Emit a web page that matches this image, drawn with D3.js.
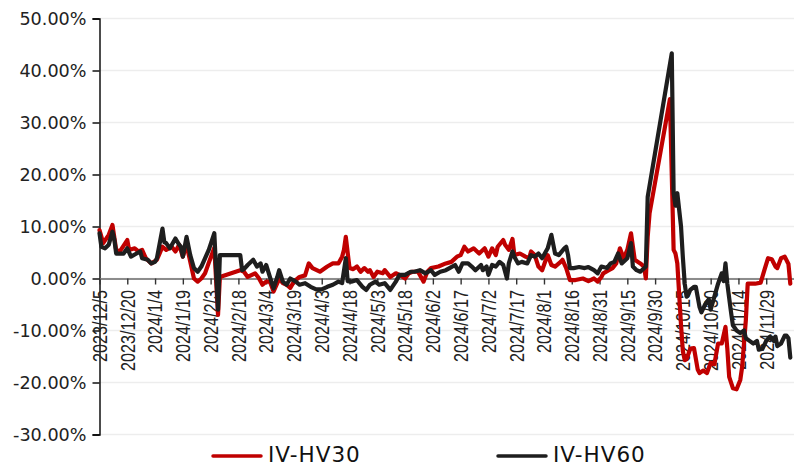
<!DOCTYPE html>
<html><head><meta charset="utf-8">
<script src="https://cdn.jsdelivr.net/npm/d3@7"></script>
<style>html,body{margin:0;padding:0;background:#fff;overflow:hidden}</style>
</head><body>
<svg id="c" width="794" height="467"></svg>
<script>
const ivHv30 = [
["2023-12-05",9.3],["2023-12-07",6.8],["2023-12-10",8.4],["2023-12-12",10.3],["2023-12-14",5.5],["2023-12-16",5.2],["2023-12-20",7.4],["2023-12-21",5.5],["2023-12-24",5.8],["2023-12-26",5.2],["2023-12-28",5.5],["2023-12-30",3.9],
["2024-01-02",2.9],["2024-01-05",3.6],["2024-01-08",6.1],["2024-01-10",5.5],["2024-01-13",6.1],["2024-01-15",5.2],["2024-01-17",6.5],["2024-01-19",4.2],["2024-01-21",6.5],["2024-01-25",0.0],["2024-01-27",-0.6],["2024-01-29",0.0],["2024-01-31",1.0],
["2024-02-02",3.0],["2024-02-05",5.9],["2024-02-07",-7.0],["2024-02-08",0.3],["2024-02-19",1.6],["2024-02-21",1.3],["2024-02-23",0.3],["2024-02-27",1.0],["2024-02-29",0.1],
["2024-03-02",-1.2],["2024-03-04",-0.6],["2024-03-06",-0.6],["2024-03-08",-2.5],["2024-03-10",-0.9],["2024-03-11",0.0],["2024-03-13",-0.9],["2024-03-15",-1.2],["2024-03-17",-1.8],["2024-03-19",-0.6],["2024-03-22",0.3],["2024-03-25",0.6],["2024-03-27",2.9],["2024-03-29",2.0],
["2024-04-02",1.3],["2024-04-06",2.3],["2024-04-09",2.9],["2024-04-12",2.9],["2024-04-14",4.2],["2024-04-15",5.5],["2024-04-16",8.0],["2024-04-18",2.0],["2024-04-20",1.8],["2024-04-22",2.3],["2024-04-24",1.3],["2024-04-26",2.0],["2024-04-28",1.3],["2024-04-29",1.6],
["2024-05-01",0.3],["2024-05-03",1.3],["2024-05-06",1.0],["2024-05-07",1.6],["2024-05-10",0.3],["2024-05-13",1.0],["2024-05-15",0.7],["2024-05-18",0.0],["2024-05-20",1.0],["2024-05-22",1.3],["2024-05-25",1.3],["2024-05-28",-0.6],["2024-05-30",1.3],
["2024-06-01",2.0],["2024-06-05",2.3],["2024-06-09",2.9],["2024-06-12",3.2],["2024-06-15",4.2],["2024-06-17",4.5],["2024-06-19",6.1],["2024-06-21",5.2],["2024-06-24",5.8],["2024-06-27",4.8],["2024-06-30",5.8],
["2024-07-02",4.2],["2024-07-04",5.8],["2024-07-06",4.5],["2024-07-07",6.1],["2024-07-10",7.4],["2024-07-11",6.5],["2024-07-13",5.5],["2024-07-15",7.6],["2024-07-16",4.5],["2024-07-19",4.8],["2024-07-22",4.2],["2024-07-24",3.9],["2024-07-25",5.2],["2024-07-27",4.5],["2024-07-29",2.3],["2024-07-31",1.6],
["2024-08-02",3.6],["2024-08-03",4.5],["2024-08-05",2.6],["2024-08-07",2.3],["2024-08-10",3.2],["2024-08-11",3.6],["2024-08-13",2.0],["2024-08-15",-0.3],["2024-08-18",-0.3],["2024-08-22",0.0],["2024-08-25",-0.5],["2024-08-28",0.0],["2024-08-30",-0.6],
["2024-09-01",0.3],["2024-09-02",1.0],["2024-09-05",1.6],["2024-09-07",2.0],["2024-09-09",2.9],["2024-09-11",5.8],["2024-09-13",3.9],["2024-09-15",5.5],["2024-09-17",8.7],["2024-09-19",3.6],["2024-09-22",2.9],["2024-09-24",2.3],["2024-09-25",0.0],["2024-09-26",8.0],["2024-09-27",12.5],
["2024-10-08",34.5],["2024-10-10",5.5],["2024-10-11",4.8],["2024-10-12",2.9],["2024-10-14",-9.0],["2024-10-15",-14.0],["2024-10-16",-15.7],["2024-10-17",-15.5],["2024-10-19",-13.5],["2024-10-21",-13.4],["2024-10-23",-17.5],["2024-10-24",-18.2],["2024-10-26",-17.7],["2024-10-28",-18.2],["2024-10-30",-16.2],
["2024-11-01",-16.5],["2024-11-03",-12.5],["2024-11-05",-12.5],["2024-11-07",-9.3],["2024-11-08",-13.5],["2024-11-09",-18.9],["2024-11-11",-21.1],["2024-11-13",-21.3],["2024-11-15",-19.5],["2024-11-16",-17.0],["2024-11-18",-8.0],["2024-11-19",-1.0],["2024-11-23",-1.0],["2024-11-26",-0.8],["2024-11-28",1.6],["2024-11-30",3.9],
["2024-12-02",3.7],["2024-12-04",2.3],["2024-12-05",2.0],["2024-12-07",3.9],["2024-12-09",4.2],["2024-12-11",2.8],["2024-12-12",-1.0]
];
const ivHv60 = [
["2023-12-05",8.7],["2023-12-06",6.1],["2023-12-08",5.8],["2023-12-10",6.5],["2023-12-12",9.0],["2023-12-13",7.5],["2023-12-14",4.8],["2023-12-18",4.8],["2023-12-20",5.8],["2023-12-22",4.2],["2023-12-25",4.8],["2023-12-27",5.2],["2023-12-28",3.9],["2023-12-31",3.6],
["2024-01-02",2.9],["2024-01-04",3.2],["2024-01-05",3.9],["2024-01-08",9.6],["2024-01-09",7.0],["2024-01-10",6.8],["2024-01-12",5.8],["2024-01-15",7.7],["2024-01-17",6.5],["2024-01-18",6.1],["2024-01-19",4.2],["2024-01-21",8.0],["2024-01-23",4.5],["2024-01-25",2.0],["2024-01-27",1.3],["2024-01-29",2.3],
["2024-02-02",5.5],["2024-02-05",8.7],["2024-02-07",-6.0],["2024-02-08",4.5],["2024-02-19",4.5],["2024-02-20",1.6],["2024-02-21",1.8],["2024-02-23",2.6],["2024-02-26",3.6],["2024-02-28",2.3],
["2024-03-01",2.9],["2024-03-02",1.3],["2024-03-04",2.6],["2024-03-06",0.3],["2024-03-08",-1.9],["2024-03-10",0.3],["2024-03-11",1.6],["2024-03-13",-0.6],["2024-03-15",-1.2],["2024-03-17",0.0],["2024-03-20",-0.6],["2024-03-22",-1.2],["2024-03-25",-0.9],["2024-03-28",-1.6],["2024-03-31",-2.1],
["2024-04-03",-2.1],["2024-04-06",-1.6],["2024-04-09",-1.2],["2024-04-12",-0.6],["2024-04-14",-0.9],["2024-04-16",3.9],["2024-04-17",-0.5],["2024-04-19",-0.6],["2024-04-22",-0.3],["2024-04-25",-1.6],["2024-04-27",-2.2],["2024-04-29",-1.2],
["2024-05-02",-0.6],["2024-05-04",-1.2],["2024-05-07",-0.9],["2024-05-10",-2.2],["2024-05-13",-0.6],["2024-05-15",0.7],["2024-05-18",0.7],["2024-05-21",1.3],["2024-05-23",1.3],["2024-05-26",1.6],["2024-05-29",1.0],
["2024-06-01",1.6],["2024-06-03",0.7],["2024-06-06",1.3],["2024-06-09",1.6],["2024-06-11",2.0],["2024-06-14",2.6],["2024-06-16",1.3],["2024-06-18",2.9],["2024-06-21",2.9],["2024-06-23",2.3],["2024-06-25",1.6],["2024-06-28",2.6],["2024-06-29",1.6],
["2024-07-01",2.3],["2024-07-02",0.7],["2024-07-04",2.6],["2024-07-06",2.3],["2024-07-08",3.2],["2024-07-10",2.6],["2024-07-12",0.0],["2024-07-13",2.9],["2024-07-15",5.2],["2024-07-16",4.2],["2024-07-18",2.9],["2024-07-20",3.2],["2024-07-23",2.9],["2024-07-25",4.5],["2024-07-27",4.2],["2024-07-29",4.8],["2024-07-31",3.9],
["2024-08-03",5.8],["2024-08-05",8.4],["2024-08-07",4.8],["2024-08-09",4.5],["2024-08-12",5.8],["2024-08-13",6.1],["2024-08-14",4.5],["2024-08-15",2.0],["2024-08-17",2.0],["2024-08-20",2.2],["2024-08-23",2.0],["2024-08-25",2.2],["2024-08-28",1.6],["2024-08-30",1.0],
["2024-09-01",2.3],["2024-09-04",2.0],["2024-09-06",2.9],["2024-09-08",3.2],["2024-09-10",4.8],["2024-09-12",2.9],["2024-09-15",3.9],["2024-09-17",6.8],["2024-09-18",2.3],["2024-09-20",1.6],["2024-09-22",1.3],["2024-09-25",2.3],["2024-09-26",15.7],
["2024-10-09",43.3],["2024-10-10",16.4],["2024-10-11",14.0],["2024-10-12",16.4],["2024-10-14",10.0],["2024-10-15",4.0],["2024-10-16",-1.0],["2024-10-17",-3.5],["2024-10-18",-3.0],["2024-10-19",-2.2],["2024-10-21",-1.6],["2024-10-22",-1.6],["2024-10-24",-5.5],["2024-10-25",-6.5],["2024-10-27",-5.0],["2024-10-29",-4.0],["2024-10-30",-6.0],
["2024-11-01",-3.5],["2024-11-03",-1.0],["2024-11-05",1.0],["2024-11-06",-0.5],["2024-11-07",2.9],["2024-11-08",-1.0],["2024-11-10",-6.5],["2024-11-11",-9.0],["2024-11-13",-10.0],["2024-11-15",-10.5],["2024-11-17",-10.0],["2024-11-18",-11.5],["2024-11-20",-12.0],["2024-11-22",-12.5],["2024-11-24",-12.0],["2024-11-25",-13.7],["2024-11-27",-13.5],["2024-11-29",-12.0],
["2024-12-01",-11.2],["2024-12-03",-12.0],["2024-12-04",-11.2],["2024-12-05",-13.0],["2024-12-07",-12.5],["2024-12-09",-11.0],["2024-12-10",-11.0],["2024-12-11",-11.5],["2024-12-12",-15.2]
];
const xTickLabels = ["2023/12/5","2023/12/20","2024/1/4","2024/1/19","2024/2/3","2024/2/18","2024/3/4","2024/3/19","2024/4/3","2024/4/18","2024/5/3","2024/5/18","2024/6/2","2024/6/17","2024/7/2","2024/7/17","2024/8/1","2024/8/16","2024/8/31","2024/9/15","2024/9/30","2024/10/15","2024/10/30","2024/11/14","2024/11/29"];
const yTickValues = [50,40,30,20,10,0,-10,-20,-30];
const seriesNames = ["IV-HV30","IV-HV60"];
const seriesColors = ["#C00000","#1E1E1E"];

const parseD = d3.timeParse("%Y-%m-%d");
const parseT = d3.timeParse("%Y/%m/%d");
const svg = d3.select("#c");

const x = d3.scaleTime().domain([parseD("2023-12-05"), parseD("2024-12-14")]).range([99.5, 794]);
const y = d3.scaleLinear().domain([-30, 50]).range([434.5, 18.5]);

// gridlines
svg.append("g").selectAll("line").data(yTickValues).join("line")
  .attr("x1", 100).attr("x2", 794).attr("y1", d => y(d)).attr("y2", d => y(d))
  .attr("stroke", "#EDEDED").attr("stroke-width", 1.5);

// y axis
const yAxis = svg.append("g").attr("transform", "translate(99.5,0)")
  .call(d3.axisLeft(y).tickValues(yTickValues).tickSize(7).tickPadding(6)
    .tickFormat(d => (d < 0 ? "-" : "") + Math.abs(d).toFixed(2) + "%"));
yAxis.select(".domain").attr("stroke", "#000").attr("stroke-width", 1.4);
yAxis.selectAll(".tick line").attr("stroke", "#000").attr("stroke-width", 1.4);
yAxis.selectAll(".tick text").attr("font-family", "DejaVu Sans").attr("font-size", "17.6px").attr("fill", "#222");

// x axis at zero
const tickDates = xTickLabels.map(s => parseT(s));
const xAxis = svg.append("g").attr("transform", `translate(0,${y(0)})`)
  .call(d3.axisBottom(x).tickValues(tickDates).tickSize(6).tickSizeOuter(0)
    .tickFormat((d, i) => xTickLabels[i]));
xAxis.select(".domain").attr("stroke", "#8C8C8C").attr("stroke-width", 2);
xAxis.selectAll(".tick line").attr("stroke", "#333").attr("stroke-width", 1.4);
xAxis.selectAll(".tick text")
  .attr("x", 0).attr("y", 0).attr("dy", "0.35em")
  .attr("text-anchor", "end")
  .attr("transform", "translate(0,11.5) rotate(-90) scale(1,1.2)")
  .attr("font-family", "Liberation Sans").attr("font-size", "16.2px").attr("fill", "#222");

// lines
const line = d3.line().x(d => x(parseD(d[0]))).y(d => y(d[1]));
[ivHv30, ivHv60].forEach((s, i) => {
  svg.append("path").datum(s).attr("d", line)
    .attr("fill", "none").attr("stroke", seriesColors[i]).attr("stroke-width", 4.2)
    .attr("stroke-linejoin", "round").attr("stroke-linecap", "round");
});

// legend
const legendX = [213, 498];
seriesNames.forEach((n, i) => {
  const g = svg.append("g");
  g.append("line").attr("x1", legendX[i]).attr("x2", legendX[i] + 48)
    .attr("y1", 456).attr("y2", 456).attr("stroke", seriesColors[i]).attr("stroke-width", 3.5)
    .attr("stroke-linecap", "round");
  g.append("text").attr("x", legendX[i] + 55).attr("y", 462)
    .attr("font-family", "DejaVu Sans").attr("font-size", "21.5px").attr("letter-spacing", "1px")
    .attr("fill", "#111").text(n);
});
</script>
</body></html>
